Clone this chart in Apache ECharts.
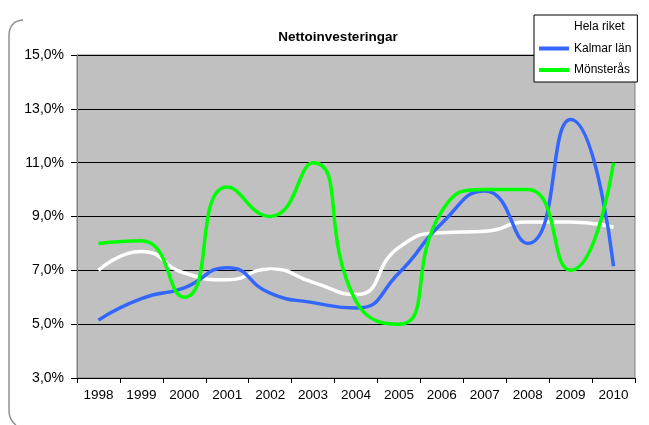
<!DOCTYPE html>
<html>
<head>
<meta charset="utf-8">
<script src="https://cdn.jsdelivr.net/npm/echarts@6/dist/echarts.min.js"></script>
<style>
html,body{margin:0;padding:0;background:#fff;}
#chart{width:649px;height:425px;}
</style>
</head>
<body>
<div id="chart"></div>
<script>
var years = ['1998','1999','2000','2001','2002','2003','2004','2005','2006','2007','2008','2009','2010'];
var helaRiket = [7.0, 7.7, 6.9, 6.65, 7.05, 6.55, 6.1, 7.85, 8.4, 8.45, 8.8, 8.8, 8.6];
var kalmarLan = [5.15, 5.95, 6.35, 7.1, 6.15, 5.8, 5.6, 6.9, 8.75, 9.95, 8.0, 12.6, 7.15];
var monsteras = [8.0, 8.1, 6.0, 10.1, 9.0, 11.0, 5.85, 5.0, 9.2, 10.0, 10.0, 7.0, 11.0];
var yTicks = {min: 3, max: 15, interval: 2};
var titleText = 'Nettoinvesteringar';
var seriesNames = ['Hela riket', 'Kalmar län', 'Mönsterås'];
var seriesColors = ['#FFFFFF', '#3366FF', '#00FF00'];

var chart = echarts.init(document.getElementById('chart'), null, {renderer: 'canvas'});
var font = 'Arial, "Liberation Sans", sans-serif';
var dataSets = [helaRiket, kalmarLan, monsteras];
var frameStyle = {stroke: '#909090', lineWidth: 1.5, fill: null};

chart.setOption({
  animation: false,
  backgroundColor: '#ffffff',
  title: {
    text: titleText,
    left: 333, top: 25, textAlign: 'center',
    textStyle: {fontFamily: font, fontSize: 13.5, fontWeight: 'bold', color: '#000'}
  },
  legend: {
    orient: 'vertical',
    left: 534, top: 15,
    backgroundColor: '#ffffff',
    borderColor: '#000000', borderWidth: 1,
    padding: [5, 6, 5, 5],
    itemGap: 7.5,
    itemWidth: 30, itemHeight: 4,
    icon: 'rect',
    textStyle: {fontFamily: font, fontSize: 12, color: '#000', lineHeight: 14},
    data: seriesNames
  },
  grid: {
    left: 77, right: 14, top: 55, bottom: 47,
    show: true, backgroundColor: '#C0C0C0', borderColor: '#808080', borderWidth: 1
  },
  xAxis: {
    type: 'category', data: years, boundaryGap: true,
    axisLine: {show: true, lineStyle: {color: '#000', width: 1}},
    axisTick: {show: true, length: 5, inside: false, lineStyle: {color: '#000'}},
    axisLabel: {fontFamily: font, fontSize: 13.5, color: '#000', margin: 10}
  },
  yAxis: {
    type: 'value', min: yTicks.min, max: yTicks.max, interval: yTicks.interval,
    axisLine: {show: true, lineStyle: {color: '#808080', width: 1}},
    axisTick: {show: true, length: 6, lineStyle: {color: '#000'}},
    splitLine: {show: true, lineStyle: {color: '#000', width: 1}},
    axisLabel: {
      fontFamily: font, fontSize: 14, color: '#000', margin: 13,
      formatter: function (v) { return v.toFixed(1).replace('.', ',') + '%'; }
    }
  },
  series: seriesNames.map(function (n, i) {
    return {
      name: n, type: 'line', data: dataSets[i], smooth: 0.55,
      symbol: 'none', color: seriesColors[i],
      lineStyle: {width: 3.5, color: seriesColors[i]}
    };
  }),
  graphic: [
    {type: 'bezierCurve', silent: true, shape: {x1: 23, y1: 20, cpx1: 9, cpy1: 21, x2: 9, y2: 36}, style: frameStyle},
    {type: 'line', silent: true, shape: {x1: 9, y1: 36, x2: 9, y2: 410}, style: frameStyle},
    {type: 'bezierCurve', silent: true, shape: {x1: 9, y1: 410, cpx1: 9, cpy1: 420, x2: 16, y2: 425}, style: frameStyle}
  ]
});
</script>
</body>
</html>
